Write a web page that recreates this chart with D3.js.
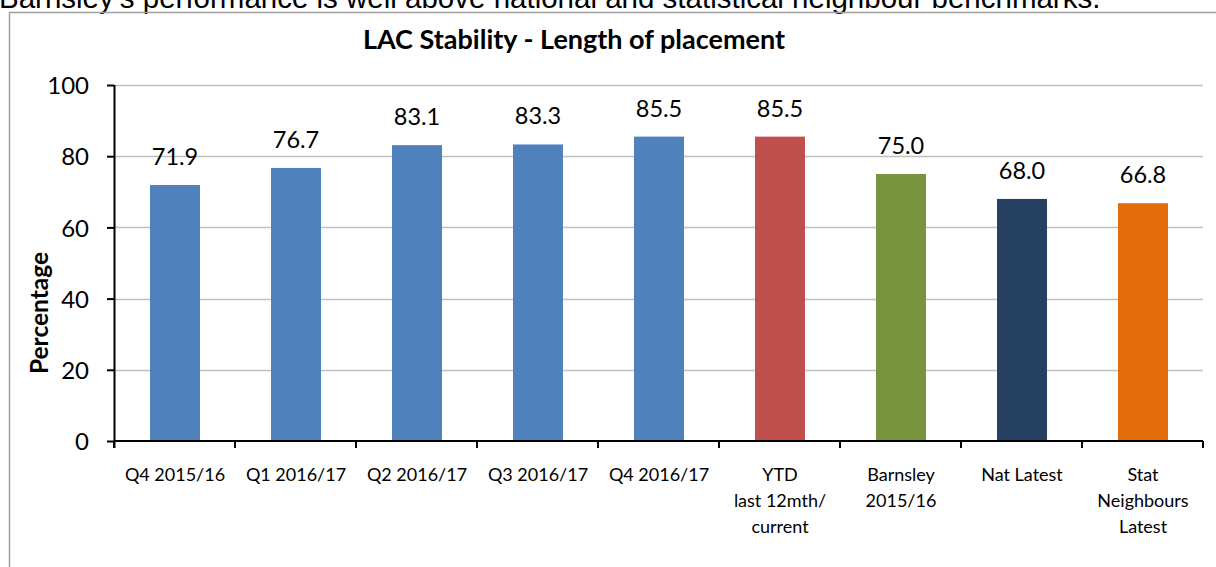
<!DOCTYPE html>
<meta charset="utf-8" />
<style>
  body {
    margin: 0;
    background: #fff;
  }
  text {
    font-family: Lato, "Open Sans", sans-serif;
  }
</style>
<body>
  <div id="chart"></div>
  <script src="https://d3js.org/d3.v7.min.js"></script>
  <script>
    // chart data
    var categories = [
      ["Q4 2015/16"],
      ["Q1 2016/17"],
      ["Q2 2016/17"],
      ["Q3 2016/17"],
      ["Q4 2016/17"],
      ["YTD", "last 12mth/", "current"],
      ["Barnsley", "2015/16"],
      ["Nat Latest"],
      ["Stat", "Neighbours", "Latest"],
    ];
    var values = [71.9, 76.7, 83.1, 83.3, 85.5, 85.5, 75.0, 68.0, 66.8];
    var barColors = [
      "#4f81bd",
      "#4f81bd",
      "#4f81bd",
      "#4f81bd",
      "#4f81bd",
      "#c0504d",
      "#77933c",
      "#254061",
      "#e46c0a",
    ];
    var yTicks = [0, 20, 40, 60, 80, 100];

    var fullW = 1216,
      fullH = 567;
    var margin = { top: 85, right: 13, bottom: 126, left: 114 },
      width = fullW - margin.left - margin.right,
      height = fullH - margin.top - margin.bottom;

    var svg = d3
      .select("#chart")
      .append("svg")
      .attr("width", fullW)
      .attr("height", fullH);

    // intro sentence, cut off at the top of the page
    svg
      .append("text")
      .attr("x", -1)
      .attr("y", 8)
      .style("font-family", "'Liberation Sans', Arial, sans-serif")
      .style("font-size", "29.5px")
      .style("fill", "#000")
      .text(
        "Barnsley\u2019s performance is well above national and statistical neighbour benchmarks."
      );

    // chart area border
    svg
      .append("path")
      .attr("d", "M9.5," + fullH + "V12.5H" + fullW)
      .attr("fill", "none")
      .attr("stroke", "#a0a0a0")
      .attr("stroke-width", 1.5);

    // title
    svg
      .append("text")
      .attr("x", 574)
      .attr("y", 49)
      .attr("text-anchor", "middle")
      .style("font-size", "27px")
      .style("font-weight", "bold")
      .text("LAC Stability - Length of placement");

    // y axis label
    svg
      .append("text")
      .attr("transform", "translate(48,313) rotate(-90)")
      .attr("text-anchor", "middle")
      .style("font-size", "24.5px")
      .style("font-weight", "bold")
      .text("Percentage");

    var g = svg
      .append("g")
      .attr("transform", "translate(" + margin.left + "," + margin.top + ")");

    // scales
    var x = d3
      .scaleBand()
      .domain(d3.range(values.length))
      .range([0, width])
      .padding(0);
    var y = d3.scaleLinear().domain([0, 100]).range([height, 0]);
    var barW = x.bandwidth() * 0.413;

    // gridlines
    g.append("g")
      .selectAll("line")
      .data(yTicks.filter((d) => d > 0))
      .enter()
      .append("line")
      .attr("x1", 0)
      .attr("x2", width)
      .attr("y1", (d) => Math.round(y(d)) + 0.5)
      .attr("y2", (d) => Math.round(y(d)) + 0.5)
      .attr("stroke", "#c0c0c0")
      .attr("stroke-width", 1.5);

    // bars
    g.append("g")
      .selectAll("rect")
      .data(values)
      .enter()
      .append("rect")
      .attr("x", (d, i) => x(i) + (x.bandwidth() - barW) / 2 + 0.5)
      .attr("y", (d) => y(d))
      .attr("width", barW)
      .attr("height", (d) => height - y(d))
      .attr("fill", (d, i) => barColors[i]);

    // value labels
    g.append("g")
      .selectAll("text")
      .data(values)
      .enter()
      .append("text")
      .attr("x", (d, i) => x(i) + x.bandwidth() / 2 + 0.5)
      .attr("y", (d) => y(d) - 20)
      .attr("text-anchor", "middle")
      .style("font-size", "23.5px")
      .text((d) => d.toFixed(1));

    // y axis
    var yAxis = g
      .append("g")
      .call(d3.axisLeft(y).tickValues(yTicks).tickSize(7).tickPadding(18));
    yAxis.select(".domain").attr("d", "M0.5,0V" + (height + 7)).attr("stroke-width", 2);
    yAxis.selectAll(".tick line").attr("stroke-width", 2);
    yAxis.selectAll(".tick text").style("font-size", "24px").attr("dy", "0.36em");
    yAxis.selectAll("text").style("font-family", "Lato, sans-serif");

    // x axis: tick marks at category boundaries
    var xg = g.append("g").attr("transform", "translate(0," + height + ")");
    xg.append("line")
      .attr("x1", 0)
      .attr("x2", width)
      .attr("stroke", "#000")
      .attr("stroke-width", 2);
    xg.selectAll(".sep")
      .data(d3.range(values.length + 1))
      .enter()
      .append("line")
      .attr("class", "sep")
      .attr("x1", (d) => (d < values.length ? x(d) : width))
      .attr("x2", (d) => (d < values.length ? x(d) : width))
      .attr("y1", 0)
      .attr("y2", 7)
      .attr("stroke", "#000")
      .attr("stroke-width", 2);

    // x category labels (multi-line)
    var labels = xg
      .selectAll(".cat")
      .data(categories)
      .enter()
      .append("text")
      .attr("class", "cat")
      .attr("text-anchor", "middle")
      .style("font-size", "18px")
      .attr("transform", (d, i) => "translate(" + (x(i) + x.bandwidth() / 2 + 0.5) + ",40)");
    labels
      .selectAll("tspan")
      .data((d) => d)
      .enter()
      .append("tspan")
      .attr("x", 0)
      .attr("y", (d, i) => i * 26)
      .text((d) => d);
  </script>
</body>
